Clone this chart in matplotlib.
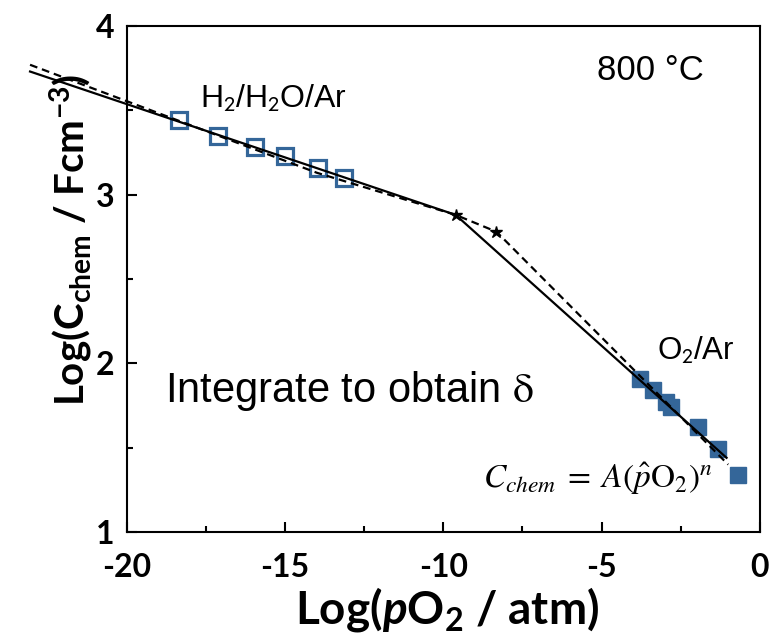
import matplotlib
matplotlib.use("Agg")
import matplotlib.pyplot as plt
from matplotlib.ticker import MultipleLocator

# ---------------------------------------------------------------
# Data
# ---------------------------------------------------------------
h2_x = [-18.36, -17.12, -15.95, -14.99, -13.96, -13.13]
h2_y = [3.44, 3.35, 3.28, 3.23, 3.16, 3.10]

o2_x = [-3.79, -3.37, -2.95, -2.79, -1.95, -1.32, -0.70]
o2_y = [1.91, 1.84, 1.77, 1.74, 1.62, 1.49, 1.34]

fit_x = [-23.06, -9.61, -1.05]
fit_y = [3.73, 2.88, 1.44]

dash_x = [-23.06, -14.0, -9.61, -8.32, -1.00]
dash_y = [3.77, 3.13, 2.88, 2.78, 1.40]

star_x = [-9.61, -8.32]
star_y = [2.88, 2.78]

BLUE = "#346699"

plt.rcParams["mathtext.fontset"] = "custom"
plt.rcParams["mathtext.rm"] = "Lato:bold"
plt.rcParams["mathtext.it"] = "Lato:bold:italic"
plt.rcParams["mathtext.bf"] = "Lato:bold"
plt.rcParams["axes.unicode_minus"] = False

LABEL_FONT = dict(family="Lato", weight="bold")
NOTE_FONT = "Liberation Sans"

# ---------------------------------------------------------------
# Figure
# ---------------------------------------------------------------
fig = plt.figure(figsize=(7.69, 6.43), dpi=100)
ax = fig.add_axes([0.165, 0.1726, 0.823, 0.787])

ax.plot(fit_x, fit_y, color="black", lw=1.6, clip_on=False, zorder=3)
ax.plot(dash_x, dash_y, color="black", lw=1.6, ls=(0, (3.5, 2.2)), clip_on=False, zorder=3)
ax.plot(star_x, star_y, ls="none", marker="*", ms=9, color="black", zorder=4)

ax.plot(h2_x, h2_y, ls="none", marker="s", ms=11.5, mfc="none", mec=BLUE, mew=2.3, zorder=2)
ax.plot(o2_x, o2_y, ls="none", marker="s", ms=12, mfc=BLUE, mec=BLUE, zorder=2)

ax.set_xlim(-20, 0)
ax.set_ylim(1, 4)
ax.xaxis.set_major_locator(MultipleLocator(5))
ax.xaxis.set_minor_locator(MultipleLocator(2.5))
ax.yaxis.set_major_locator(MultipleLocator(1))
ax.yaxis.set_minor_locator(MultipleLocator(0.5))

for s in ax.spines.values():
    s.set_linewidth(1.5)
ax.tick_params(which="both", direction="in", top=False, right=False, width=1.5)
ax.tick_params(which="major", length=7)
ax.tick_params(which="minor", length=4)
ax.tick_params(axis="x", pad=15)
ax.tick_params(axis="y", pad=9)
for lab in ax.get_xticklabels() + ax.get_yticklabels():
    lab.set_fontfamily("Lato")
    lab.set_fontweight("bold")
    lab.set_fontsize(23)

ax.set_xlabel(r"Log($p$O$_2$ / atm)", fontsize=33, va="top", **LABEL_FONT)
ax.xaxis.set_label_coords(0.506, -0.105)
ax.set_ylabel(r"Log(C$_{\mathrm{chem}}$ / Fcm$^{\mathrm{-3}}$)", fontsize=29, **LABEL_FONT)
ax.yaxis.set_label_coords(-0.05, 0.578)

# ---------------------------------------------------------------
# Annotations
# ---------------------------------------------------------------
ax.text(-17.69, 3.515, r"H$_2$/H$_2$O/Ar", fontsize=23, family=NOTE_FONT,
        math_fontfamily="stixsans", va="baseline")
ax.text(-3.25, 2.02, r"O$_2$/Ar", fontsize=22.5, family=NOTE_FONT,
        math_fontfamily="stixsans", va="baseline")
ax.text(-5.15, 3.68, "800 °C", fontsize=25, family=NOTE_FONT, va="baseline")
ax.text(-18.78, 1.77, r"Integrate to obtain $\mathrm{\delta}$", fontsize=30, family=NOTE_FONT,
        math_fontfamily="stix", va="baseline")
ax.text(-8.75, 1.26, r"$C_{chem}\;=\;A(\hat{p}\mathrm{O}_2)^n$", fontsize=24,
        math_fontfamily="stix", va="baseline")

fig.savefig("out.png", dpi=100)
